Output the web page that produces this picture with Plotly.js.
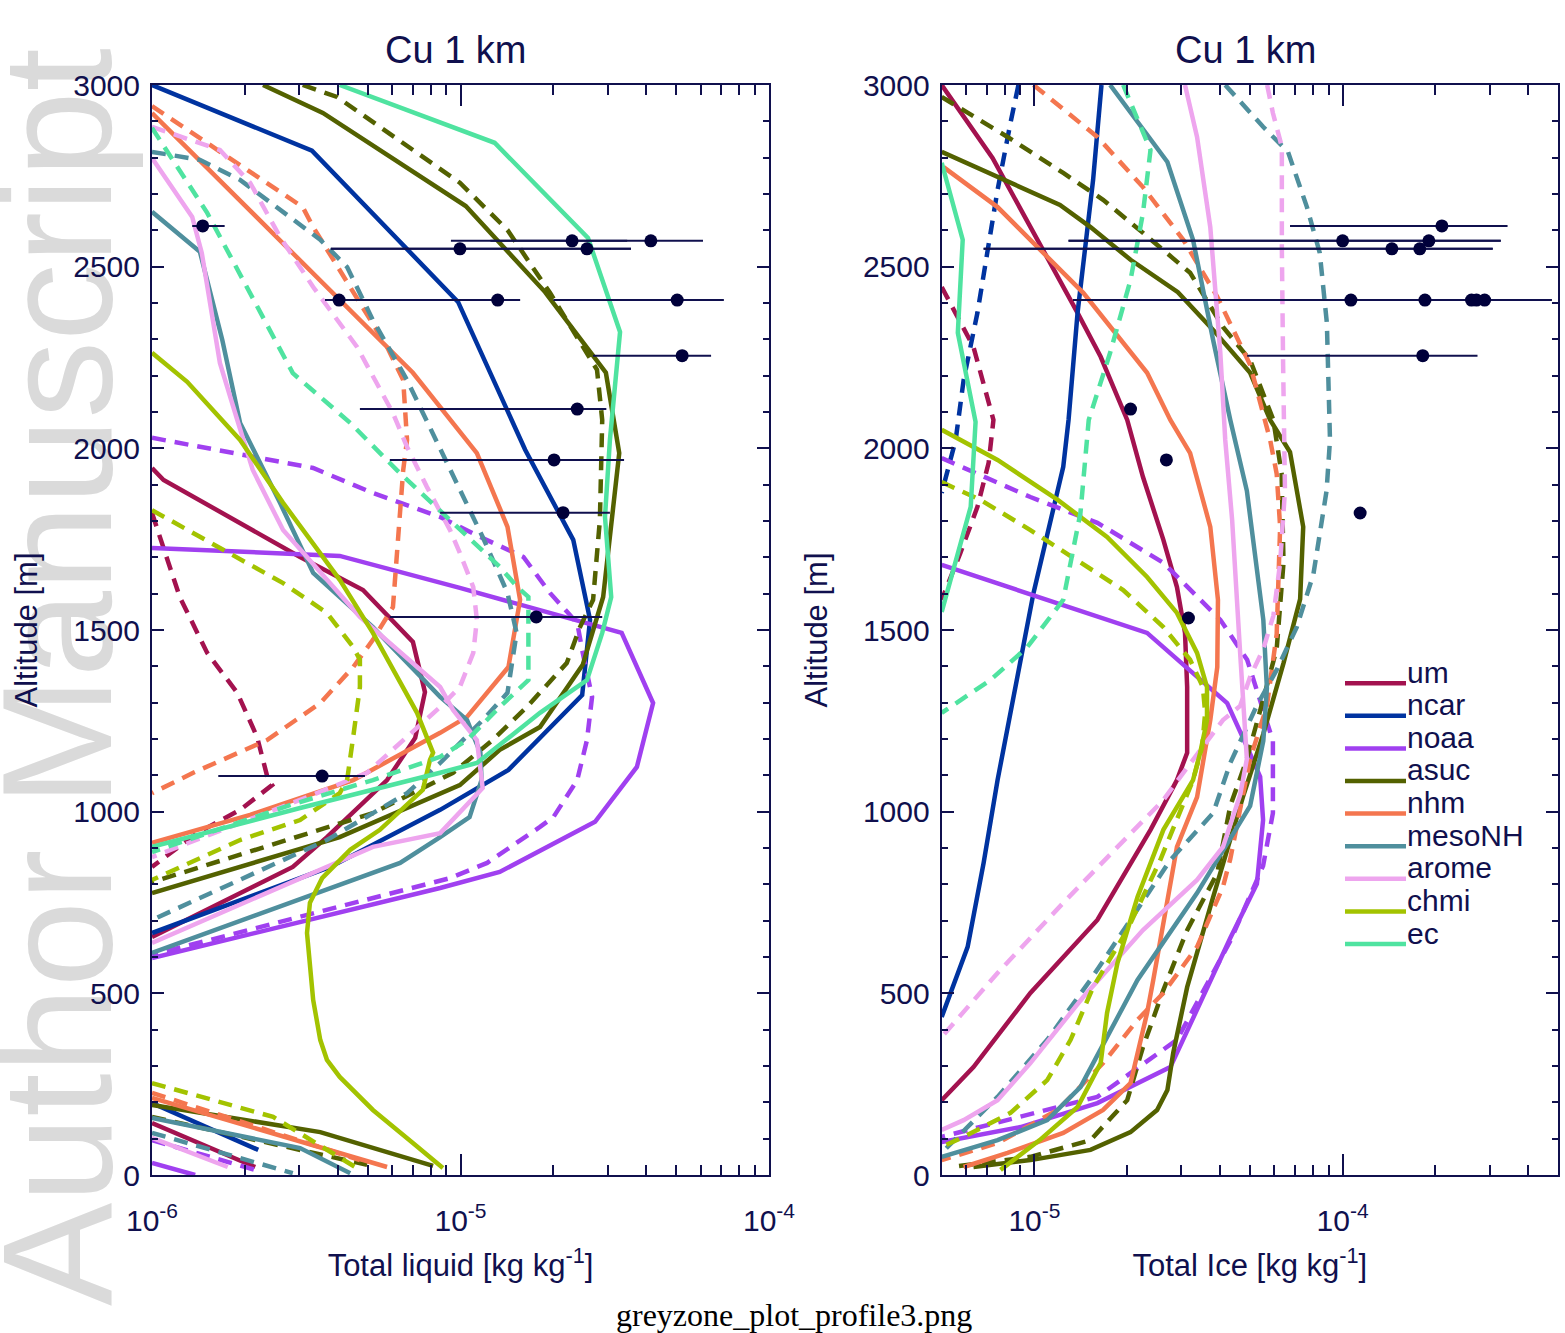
<!DOCTYPE html>
<html>
<head>
<meta charset="utf-8">
<script src="https://cdn.plot.ly/plotly-3.0.1.min.js"></script>
<style>html,body{margin:0;padding:0;background:#fff}#chart{width:1565px;height:1333px}</style>
</head>
<body>
<div id="chart"></div>
<script>
// ---------------- DATA ----------------
const models = ['um','ncar','noaa','asuc','nhm','mesoNH','arome','chmi','ec'];
const modelColors = ['#a3124f','#0033a0','#a040f0','#536100','#f4764f','#4f8f9d','#eea5ee','#a3c300','#4fe3a0'];

// Total liquid (left panel) : altitude [m] and value [kg/kg]; null = break (value below axis)
const liqUmAlt  = [1946,1913,1701,1610,1467,1329,1203,1087,930,848,655,null,143,22];
const liqUmVal  = [1.00e-6,1.09e-6,3.02e-6,4.83e-6,7.01e-6,7.67e-6,7.13e-6,5.78e-6,3.69e-6,2.86e-6,1.00e-6,null,1.00e-6,2.16e-6];
const liqUmDAlt = [1822,1591,1437,1327,1206,1087,1073,1005,941,848];
const liqUmDVal = [1.00e-6,1.23e-6,1.51e-6,1.89e-6,2.19e-6,2.38e-6,2.45e-6,1.93e-6,1.40e-6,1.00e-6];

const liqNcarAlt = [3000,2819,2403,1996,1748,1528,1321,1115,1005,848,666,null,198,69];
const liqNcarVal = [1.00e-6,3.30e-6,9.82e-6,1.62e-5,2.32e-5,2.63e-5,2.48e-5,1.43e-5,8.59e-6,3.78e-6,1.00e-6,null,1.00e-6,2.21e-6];

const liqNoaaAlt  = [1726,1704,1616,1492,1299,1123,972,834,790,597,null,33,0];
const liqNoaaVal  = [1.00e-6,4.06e-6,9.95e-6,3.33e-5,4.21e-5,3.73e-5,2.73e-5,1.34e-5,8.59e-6,1.00e-6,null,1.00e-6,1.38e-6];
const liqNoaaDAlt = [2029,1990,1946,1877,1811,1756,1701,1602,1519,1437,1316,1197,1087,985,958,859,817,606,null,96,14];
const liqNoaaDVal = [1.00e-6,1.75e-6,3.33e-6,5.20e-6,8.59e-6,1.16e-5,1.60e-5,1.95e-5,2.39e-5,2.49e-5,2.67e-5,2.57e-5,2.39e-5,2.00e-5,1.81e-5,1.22e-5,9.25e-6,1.00e-6,null,1.00e-6,2.16e-6];

const liqAsucAlt  = [3000,2923,2667,2430,2208,1987,1591,1404,1233,1170,1073,930,776,null,193,118,25];
const liqAsucVal  = [2.29e-6,3.58e-6,1.04e-5,1.88e-5,2.96e-5,3.27e-5,2.90e-5,2.49e-5,1.81e-5,1.34e-5,9.95e-6,4.06e-6,1.00e-6,null,1.00e-6,3.51e-6,8.15e-6];
const liqAsucDAlt = [3000,2967,2731,2601,2428,2290,2216,2078,1803,1583,1508,1409,1288,1197,1107,996,806,null,160,28];
const liqAsucDVal = [3.08e-6,3.98e-6,9.95e-6,1.42e-5,1.95e-5,2.44e-5,2.77e-5,2.88e-5,2.83e-5,2.69e-5,2.44e-5,2.21e-5,1.64e-5,1.27e-5,9.46e-6,5.20e-6,1.00e-6,null,1.00e-6,4.98e-6];

const liqNhmAlt  = [2923,2208,1987,1784,1583,1398,1261,1217,1087,991,914,null,212,22];
const liqNhmVal  = [1.00e-6,7.01e-6,1.13e-5,1.42e-5,1.56e-5,1.43e-5,1.05e-5,8.59e-6,4.49e-6,2.08e-6,1.00e-6,null,1.00e-6,5.78e-6];
const liqNhmDAlt = [2942,2664,2609,2279,2188,2023,1940,1712,1563,1473,1398,1299,1197,1107,1051,null,226,41];
const liqNhmDVal = [1.00e-6,3.08e-6,3.33e-6,5.78e-6,6.52e-6,6.71e-6,6.52e-6,6.22e-6,6.04e-6,5.20e-6,4.49e-6,3.51e-6,2.36e-6,1.36e-6,1.00e-6,null,1.00e-6,4.72e-6];

const liqMesoAlt  = [2651,2541,2298,2070,1850,1657,1508,1316,1252,1162,1087,985,930,859,611,null,157,74,5];
const liqMesoVal  = [1.00e-6,1.43e-6,1.69e-6,1.93e-6,2.60e-6,3.33e-6,5.20e-6,8.59e-6,1.05e-5,1.16e-5,1.17e-5,1.07e-5,8.59e-6,6.37e-6,1.00e-6,null,1.00e-6,3.02e-6,4.39e-6];
const liqMesoDAlt = [2816,2794,2739,2574,2499,2353,2188,1996,1756,1602,1492,1327,1252,1134,1051,922,702,null,116,5];
const liqMesoDVal = [1.00e-6,1.43e-6,1.93e-6,3.51e-6,4.29e-6,5.20e-6,6.71e-6,8.59e-6,1.18e-5,1.42e-5,1.52e-5,1.42e-5,1.18e-5,8.59e-6,6.71e-6,3.69e-6,1.00e-6,null,1.00e-6,2.86e-6];

const liqAromeAlt  = [2799,2637,2538,2373,2235,2078,1941,1775,1693,1536,1343,1280,1197,1065,941,903,639,null,102,22];
const liqAromeVal  = [1.00e-6,1.35e-6,1.45e-6,1.56e-6,1.66e-6,1.89e-6,2.12e-6,2.66e-6,3.25e-6,4.72e-6,8.59e-6,9.46e-6,1.13e-5,1.18e-5,8.59e-6,5.20e-6,1.00e-6,null,1.00e-6,1.76e-6];
const liqAromeDAlt = [2885,2821,2731,2582,2444,2279,2097,2004,1894,1775,1712,1618,1528,1437,1343,1288,1107,1040,875];
const liqAromeDVal = [1.00e-6,1.66e-6,2.08e-6,2.60e-6,3.33e-6,4.62e-6,6.04e-6,6.71e-6,7.78e-6,9.25e-6,9.95e-6,1.10e-5,1.13e-5,1.10e-5,9.95e-6,8.59e-6,4.98e-6,3.18e-6,1.00e-6];

const liqChmiAlt  = [2263,2183,2023,1850,1638,1492,1272,1162,1142,1060,950,895,817,749,666,482,372,317,270,179,88,19];
const liqChmiVal  = [1.00e-6,1.30e-6,1.93e-6,2.66e-6,4.06e-6,5.20e-6,7.23e-6,8.15e-6,7.96e-6,7.55e-6,5.48e-6,4.39e-6,3.56e-6,3.25e-6,3.18e-6,3.33e-6,3.51e-6,3.69e-6,4.06e-6,5.20e-6,7.01e-6,8.77e-6];
const liqChmiDAlt = [1830,1720,1629,1547,1453,1418,1343,1206,1087,1051,977,922,812,null,253,160,14];
const liqChmiDVal = [1.00e-6,1.70e-6,2.66e-6,3.69e-6,4.49e-6,4.72e-6,4.72e-6,4.49e-6,4.29e-6,4.06e-6,3.02e-6,1.93e-6,1.00e-6,null,1.00e-6,2.47e-6,4.72e-6];

const liqEcAlt  = [3000,2841,2579,2320,2023,1811,1591,1492,1362,1272,1134,1107,1010,903];
const liqEcVal  = [4.06e-6,1.29e-5,2.59e-5,3.29e-5,3.05e-5,2.94e-5,3.08e-5,2.88e-5,2.57e-5,1.81e-5,1.13e-5,8.59e-6,3.02e-6,1.00e-6];
const liqEcDAlt = [2882,2648,2207,2070,1940,1775,1674,1618,1591,1362,1288,1197,1151,1087,1018,889];
const liqEcDVal = [1.00e-6,1.51e-6,2.86e-6,4.39e-6,6.22e-6,9.95e-6,1.34e-5,1.53e-5,1.66e-5,1.66e-5,1.34e-5,1.05e-5,8.59e-6,5.20e-6,2.80e-6,1.00e-6];

// Liquid observations
const liqObsAlt = [2612,2571,2571,2549,2549,2408,2408,2408,2255,2108,1968,1823,1536,1098];
const liqObsVal = [1.46e-6,2.30e-5,4.14e-5,9.96e-6,2.57e-5,4.04e-6,1.32e-5,5.04e-5,5.23e-5,2.39e-5,2.01e-5,2.15e-5,1.76e-5,3.56e-6];
const liqObsLo  = [1.35e-6,1.25e-5,9.31e-6,3.80e-6,3.80e-6,3.64e-6,3.64e-6,2.00e-5,2.69e-5,4.72e-6,5.90e-6,8.59e-6,5.90e-6,1.64e-6];
const liqObsHi  = [1.72e-6,3.47e-5,6.11e-5,3.57e-5,3.57e-5,1.56e-5,1.56e-5,7.14e-5,6.49e-5,2.97e-5,3.39e-5,3.05e-5,2.88e-5,4.90e-6];

// Total ice (right panel)
const iceUmAlt  = [3000,2799,2373,2252,2078,1921,1748,1618,1492,1343,1162,1087,950,702,501,297,206];
const iceUmVal  = [5.00e-6,7.31e-6,1.38e-5,1.64e-5,2.00e-5,2.25e-5,2.62e-5,2.90e-5,3.08e-5,3.13e-5,3.13e-5,2.90e-5,2.38e-5,1.60e-5,9.70e-6,6.34e-6,5.00e-6];
const iceUmDAlt = [2444,2279,2078,1960,1839,1712,1583];
const iceUmDVal = [5.00e-6,6.34e-6,7.36e-6,7.10e-6,6.53e-6,5.75e-6,5.00e-6];

const iceNcarAlt  = [3000,2739,2373,2078,1949,1602,1087,859,628,435];
const iceNcarVal  = [1.65e-5,1.55e-5,1.38e-5,1.29e-5,1.24e-5,9.93e-6,7.59e-6,6.84e-6,6.07e-6,5.00e-6];
const iceNcarDAlt = [3000,2896,2711,2554,2373,2188,2023,1877];
const iceNcarDVal = [8.87e-6,8.36e-6,7.59e-6,7.05e-6,6.53e-6,5.89e-6,5.55e-6,5.00e-6];

const iceNoaaAlt  = [1679,1492,1299,1206,1173,1096,977,801,652,297,198,132,91];
const iceNoaaVal  = [5.00e-6,2.32e-5,4.22e-5,4.75e-5,4.93e-5,5.40e-5,5.52e-5,5.27e-5,4.32e-5,2.76e-5,1.60e-5,9.02e-6,5.00e-6];
const iceNoaaDAlt = [1973,1866,1795,1685,1528,1418,1195,996,851,644,372,215,105];
const iceNoaaDVal = [5.00e-6,9.70e-6,1.60e-5,2.62e-5,4.01e-5,4.90e-5,5.94e-5,5.94e-5,5.52e-5,4.32e-5,2.90e-5,1.60e-5,5.00e-6];

const iceAsucAlt  = [2816,2670,2609,2519,2430,2326,2208,2078,1990,1784,1585,1409,1214,1046,765,517,336,234,179,118,69,41,22];
const iceAsucVal  = [5.00e-6,1.21e-5,1.52e-5,2.05e-5,2.92e-5,3.80e-5,5.01e-5,5.82e-5,6.75e-5,7.45e-5,7.28e-5,6.43e-5,5.53e-5,4.77e-5,3.80e-5,3.13e-5,2.82e-5,2.70e-5,2.50e-5,2.05e-5,1.52e-5,9.70e-6,6.34e-6];
const iceAsucDAlt = [2967,2857,2758,2684,2593,2483,2334,2243,2078,1930,1685,1448,1310,1145,1016,831,674,509,352,206,96,50,22];
const iceAsucDVal = [5.00e-6,8.18e-6,1.24e-5,1.67e-5,2.25e-5,3.20e-5,4.09e-5,5.01e-5,5.96e-5,6.34e-5,6.43e-5,6.11e-5,5.53e-5,4.89e-5,4.32e-5,3.92e-5,3.13e-5,2.62e-5,2.25e-5,2.00e-5,1.52e-5,9.70e-6,5.35e-6];

const iceNhmAlt  = [2774,2664,2428,2208,2078,1987,1784,1583,1398,1252,1040,903,537,446,253,179,116,61,22];
const iceNhmVal  = [5.07e-6,7.59e-6,1.44e-5,2.32e-5,2.76e-5,3.20e-5,3.72e-5,3.94e-5,3.92e-5,3.72e-5,3.37e-5,2.90e-5,2.43e-5,2.32e-5,2.05e-5,1.67e-5,1.24e-5,8.18e-6,5.89e-6];
const iceNhmDAlt = [3000,2857,2719,2574,2417,2230,2023,1930,1784,1489,1291,1145,870,793,628,501,427,308,179,88,41];
const iceNhmDVal = [9.93e-6,1.60e-5,2.25e-5,3.04e-5,3.92e-5,5.01e-5,5.82e-5,6.11e-5,6.27e-5,6.11e-5,5.68e-5,5.01e-5,4.32e-5,4.09e-5,3.37e-5,2.62e-5,2.16e-5,1.67e-5,1.19e-5,7.59e-6,5.00e-6];

const iceMesoAlt  = [3000,2788,2574,2298,2078,1883,1528,1340,1195,1016,776,537,242,151,96,50];
const iceMesoVal  = [1.76e-5,2.70e-5,3.27e-5,3.80e-5,4.32e-5,4.89e-5,5.53e-5,5.68e-5,5.53e-5,5.01e-5,3.37e-5,2.16e-5,1.41e-5,1.10e-5,7.59e-6,5.00e-6];
const iceMesoDAlt = [3000,2885,2816,2664,2538,2345,2023,1883,1654,1508,1390,1291,1134,996,867,702,537,372,215,61];
const iceMesoDVal = [4.16e-5,5.52e-5,6.65e-5,7.66e-5,8.43e-5,8.89e-5,9.10e-5,8.87e-5,8.04e-5,7.10e-5,6.11e-5,5.26e-5,4.32e-5,3.80e-5,2.76e-5,2.05e-5,1.52e-5,1.10e-5,7.59e-6,5.00e-6];

const iceAromeAlt  = [3000,2857,2609,2263,2023,1803,1437,1145,1046,903,812,674,490,308,206,151,124];
const iceAromeVal  = [3.08e-5,3.37e-5,3.72e-5,4.01e-5,4.16e-5,4.38e-5,4.65e-5,4.89e-5,4.65e-5,4.09e-5,3.37e-5,2.25e-5,1.44e-5,9.70e-6,7.59e-6,5.89e-6,5.00e-6];
const iceAromeDAlt = [3000,2923,2830,2554,2235,1883,1685,1539,1448,1371,1291,1252,1107,1032,903,749,556,380];
const iceAromeDVal = [5.69e-5,5.94e-5,6.35e-5,6.35e-5,6.41e-5,6.50e-5,6.27e-5,5.96e-5,5.53e-5,5.01e-5,4.65e-5,4.09e-5,3.04e-5,2.62e-5,1.86e-5,1.24e-5,7.59e-6,5.00e-6];

const iceChmiAlt  = [2051,1968,1858,1756,1646,1547,1437,1343,1252,1162,1087,950,765,584,446,308,187,96,14];
const iceChmiVal  = [5.00e-6,7.59e-6,1.19e-5,1.72e-5,2.32e-5,2.90e-5,3.37e-5,3.63e-5,3.63e-5,3.45e-5,3.27e-5,2.62e-5,2.16e-5,1.86e-5,1.72e-5,1.64e-5,1.38e-5,1.04e-5,7.76e-6];
const iceChmiDAlt = [1907,1858,1775,1685,1610,1508,1418,1343,1272,1178,1087,867,674,517,372,261,171,105,77];
const iceChmiDVal = [5.00e-6,6.68e-6,9.70e-6,1.41e-5,1.94e-5,2.62e-5,3.20e-5,3.52e-5,3.58e-5,3.50e-5,3.27e-5,2.56e-5,2.00e-5,1.55e-5,1.31e-5,1.10e-5,8.36e-6,5.89e-6,5.00e-6];

const iceEcAlt  = [2786,2574,2318,2073,1839,1550];
const iceEcVal  = [5.00e-6,5.85e-6,5.64e-6,6.44e-6,6.21e-6,5.00e-6];
const iceEcDAlt = [3000,2821,2648,2463,2263,2078,1822,1583,1453,1362,1272];
const iceEcDVal = [1.94e-5,2.38e-5,2.25e-5,2.05e-5,1.76e-5,1.50e-5,1.41e-5,1.24e-5,9.48e-6,7.19e-6,5.00e-6];

// Ice observations
const iceObsAlt = [2612,2571,2571,2549,2549,2408,2408,2408,2408,2408,2255,2108,1968,1822,1533];
const iceObsVal = [2.10e-4,1.00e-4,1.905e-4,1.445e-4,1.78e-4,1.064e-4,1.85e-4,2.62e-4,2.72e-4,2.89e-4,1.82e-4,2.05e-5,2.68e-5,1.14e-4,3.16e-5];
const iceObsLo  = [6.75e-5,1.29e-5,1.29e-5,6.84e-6,6.84e-6,1.336e-5,1.336e-5,1.336e-5,1.336e-5,1.336e-5,4.90e-5,2.05e-5,2.68e-5,1.14e-4,3.16e-5];
const iceObsHi  = [3.43e-4,3.26e-4,3.26e-4,3.07e-4,3.07e-4,4.76e-4,4.76e-4,4.76e-4,4.76e-4,4.76e-4,2.74e-4,2.05e-5,2.68e-5,1.14e-4,3.16e-5];

// ---------------- BUILD ----------------
const NAVY = '#10104e';
const FONT = 'Liberation Sans, Arial, Helvetica, sans-serif';
const W = 1565, H = 1333;

const series = [
  // [panel, modelIndex, dashed, alt, val]
  ['liq',0,false,liqUmAlt,liqUmVal],['liq',0,true,liqUmDAlt,liqUmDVal],
  ['liq',1,false,liqNcarAlt,liqNcarVal],
  ['liq',2,false,liqNoaaAlt,liqNoaaVal],['liq',2,true,liqNoaaDAlt,liqNoaaDVal],
  ['liq',3,false,liqAsucAlt,liqAsucVal],['liq',3,true,liqAsucDAlt,liqAsucDVal],
  ['liq',4,false,liqNhmAlt,liqNhmVal],['liq',4,true,liqNhmDAlt,liqNhmDVal],
  ['liq',5,false,liqMesoAlt,liqMesoVal],['liq',5,true,liqMesoDAlt,liqMesoDVal],
  ['liq',6,false,liqAromeAlt,liqAromeVal],['liq',6,true,liqAromeDAlt,liqAromeDVal],
  ['liq',7,false,liqChmiAlt,liqChmiVal],['liq',7,true,liqChmiDAlt,liqChmiDVal],
  ['liq',8,false,liqEcAlt,liqEcVal],['liq',8,true,liqEcDAlt,liqEcDVal],
  ['ice',0,false,iceUmAlt,iceUmVal],['ice',0,true,iceUmDAlt,iceUmDVal],
  ['ice',1,false,iceNcarAlt,iceNcarVal],['ice',1,true,iceNcarDAlt,iceNcarDVal],
  ['ice',2,false,iceNoaaAlt,iceNoaaVal],['ice',2,true,iceNoaaDAlt,iceNoaaDVal],
  ['ice',3,false,iceAsucAlt,iceAsucVal],['ice',3,true,iceAsucDAlt,iceAsucDVal],
  ['ice',4,false,iceNhmAlt,iceNhmVal],['ice',4,true,iceNhmDAlt,iceNhmDVal],
  ['ice',5,false,iceMesoAlt,iceMesoVal],['ice',5,true,iceMesoDAlt,iceMesoDVal],
  ['ice',6,false,iceAromeAlt,iceAromeVal],['ice',6,true,iceAromeDAlt,iceAromeDVal],
  ['ice',7,false,iceChmiAlt,iceChmiVal],['ice',7,true,iceChmiDAlt,iceChmiDVal],
  ['ice',8,false,iceEcAlt,iceEcVal],['ice',8,true,iceEcDAlt,iceEcDVal]
];

const traces = series.map(s => ({
  type: 'scatter', mode: 'lines',
  x: s[4], y: s[3],
  xaxis: s[0] === 'liq' ? 'x' : 'x2',
  yaxis: s[0] === 'liq' ? 'y' : 'y2',
  name: models[s[1]] + (s[2] ? ' (dashed)' : ''),
  line: {color: modelColors[s[1]], width: 4.5, dash: s[2] ? '14px,9px' : 'solid'},
  connectgaps: false, showlegend: false, hoverinfo: 'skip'
}));

function obsTrace(alt, val, lo, hi, xa, ya) {
  return {
    type: 'scatter', mode: 'markers', x: val, y: alt, xaxis: xa, yaxis: ya,
    marker: {color: '#00003a', size: 13},
    error_x: {type: 'data', symmetric: false,
      array: val.map((v, i) => hi[i] - v),
      arrayminus: val.map((v, i) => v - lo[i]),
      color: NAVY, thickness: 2, width: 0},
    showlegend: false, hoverinfo: 'skip', cliponaxis: true
  };
}
traces.push(obsTrace(liqObsAlt, liqObsVal, liqObsLo, liqObsHi, 'x', 'y'));
traces.push(obsTrace(iceObsAlt, iceObsVal, iceObsLo, iceObsHi, 'x2', 'y2'));

function decadeMinors(lo, hi) {
  const out = [];
  for (let e = lo; e < hi; e++) for (let m = 2; m <= 9; m++) out.push(m * Math.pow(10, e));
  return out;
}
const liqTickVals = [1e-6, 1e-5, 1e-4];
const liqTickText = ['10<sup>-6</sup>', '10<sup>-5</sup>', '10<sup>-4</sup>'];
const iceTickVals = [1e-5, 1e-4];
const iceTickText = ['10<sup>-5</sup>', '10<sup>-4</sup>'];

function xAx(domain, range, tv, tt, minors, title, anchor) {
  return {
    type: 'log', domain: domain, range: range, anchor: anchor,
    tickmode: 'array', tickvals: tv, ticktext: tt,
    ticks: 'inside', ticklen: 21, tickwidth: 2, tickcolor: NAVY,
    showline: true, linecolor: NAVY, linewidth: 2, mirror: 'allticks',
    showgrid: false, zeroline: false,
    tickfont: {family: FONT, size: 30, color: NAVY},
    ticklabelstandoff: 18,
    minor: {ticks: 'inside', ticklen: 10, tickwidth: 2, tickcolor: NAVY, tickmode: 'array', tickvals: minors, showgrid: false},
    title: {text: title, font: {family: FONT, size: 31, color: NAVY}, standoff: 18},
    automargin: false
  };
}
function yAx(domain, anchor) {
  return {
    domain: domain, range: [0, 3000], anchor: anchor,
    tickmode: 'linear', tick0: 0, dtick: 500,
    ticks: 'inside', ticklen: 12, tickwidth: 2, tickcolor: NAVY,
    showline: true, linecolor: NAVY, linewidth: 2, mirror: 'allticks',
    showgrid: false, zeroline: false,
    tickfont: {family: FONT, size: 30, color: NAVY},
    ticklabelstandoff: 4,
    minor: {ticks: 'inside', ticklen: 6, tickwidth: 2, tickcolor: NAVY, dtick: 100, showgrid: false},
    title: {text: 'Altitude [m]', font: {family: FONT, size: 31, color: NAVY}, standoff: 26},
    automargin: false
  };
}

const yDom = [(H - 1175) / H, (H - 85) / H];
const layout = {
  width: W, height: H,
  margin: {l: 0, r: 0, t: 0, b: 0},
  paper_bgcolor: '#ffffff', plot_bgcolor: '#ffffff',
  showlegend: false,
  font: {family: FONT, color: NAVY},
  xaxis: xAx([152 / W, 769 / W], [-6, -4], liqTickVals, liqTickText, decadeMinors(-6, -4), 'Total liquid [kg kg<sup>-1</sup>]', 'y'),
  yaxis: yAx(yDom, 'x'),
  xaxis2: xAx([941.7 / W, 1558 / W], [Math.log10(5e-6), Math.log10(5e-4)], iceTickVals, iceTickText,
              decadeMinors(-6, -3).filter(v => v > 5.01e-6 && v < 4.99e-4), 'Total Ice [kg kg<sup>-1</sup>]', 'y2'),
  yaxis2: yAx(yDom, 'x2'),
  annotations: [],
  shapes: []
};

// watermark (below everything)
layout.shapes.push({
  type: 'rect', xref: 'paper', yref: 'paper', layer: 'below',
  x0: 0, x1: 86 / W, y0: -0.006, y1: 0.99,
  line: {width: 0}, fillcolor: 'rgba(0,0,0,0)',
  label: {text: 'Author Manuscript', textangle: -90, textposition: 'middle center',
          font: {family: FONT, size: 155, color: '#dadada'}}
});

// panel titles
[[455, 'Cu 1 km'], [1245, 'Cu 1 km']].forEach(t => layout.annotations.push({
  xref: 'paper', yref: 'paper', x: t[0] / W, y: (H - 50) / H, xanchor: 'center', yanchor: 'middle',
  text: t[1], showarrow: false, font: {family: FONT, size: 38, color: NAVY}
}));

// legend
models.forEach((m, i) => {
  const ly = 683.2 + i * 32.6;
  layout.shapes.push({type: 'line', xref: 'paper', yref: 'paper',
    x0: 1345 / W, x1: 1406 / W, y0: (H - ly) / H, y1: (H - ly) / H,
    line: {color: modelColors[i], width: 4.5}});
  layout.annotations.push({xref: 'paper', yref: 'paper', x: 1405 / W, y: (H - (ly - 11)) / H,
    xanchor: 'left', yanchor: 'middle', text: m, showarrow: false,
    font: {family: FONT, size: 30, color: NAVY}});
});

// filename caption
layout.annotations.push({xref: 'paper', yref: 'paper', x: 794 / W, y: (H - 1315) / H,
  xanchor: 'center', yanchor: 'middle', text: 'greyzone_plot_profile3.png', showarrow: false,
  font: {family: 'Liberation Serif, Times New Roman, serif', size: 32, color: '#000000'}});

Plotly.newPlot('chart', traces, layout, {staticPlot: true, displayModeBar: false});
</script>
</body>
</html>
